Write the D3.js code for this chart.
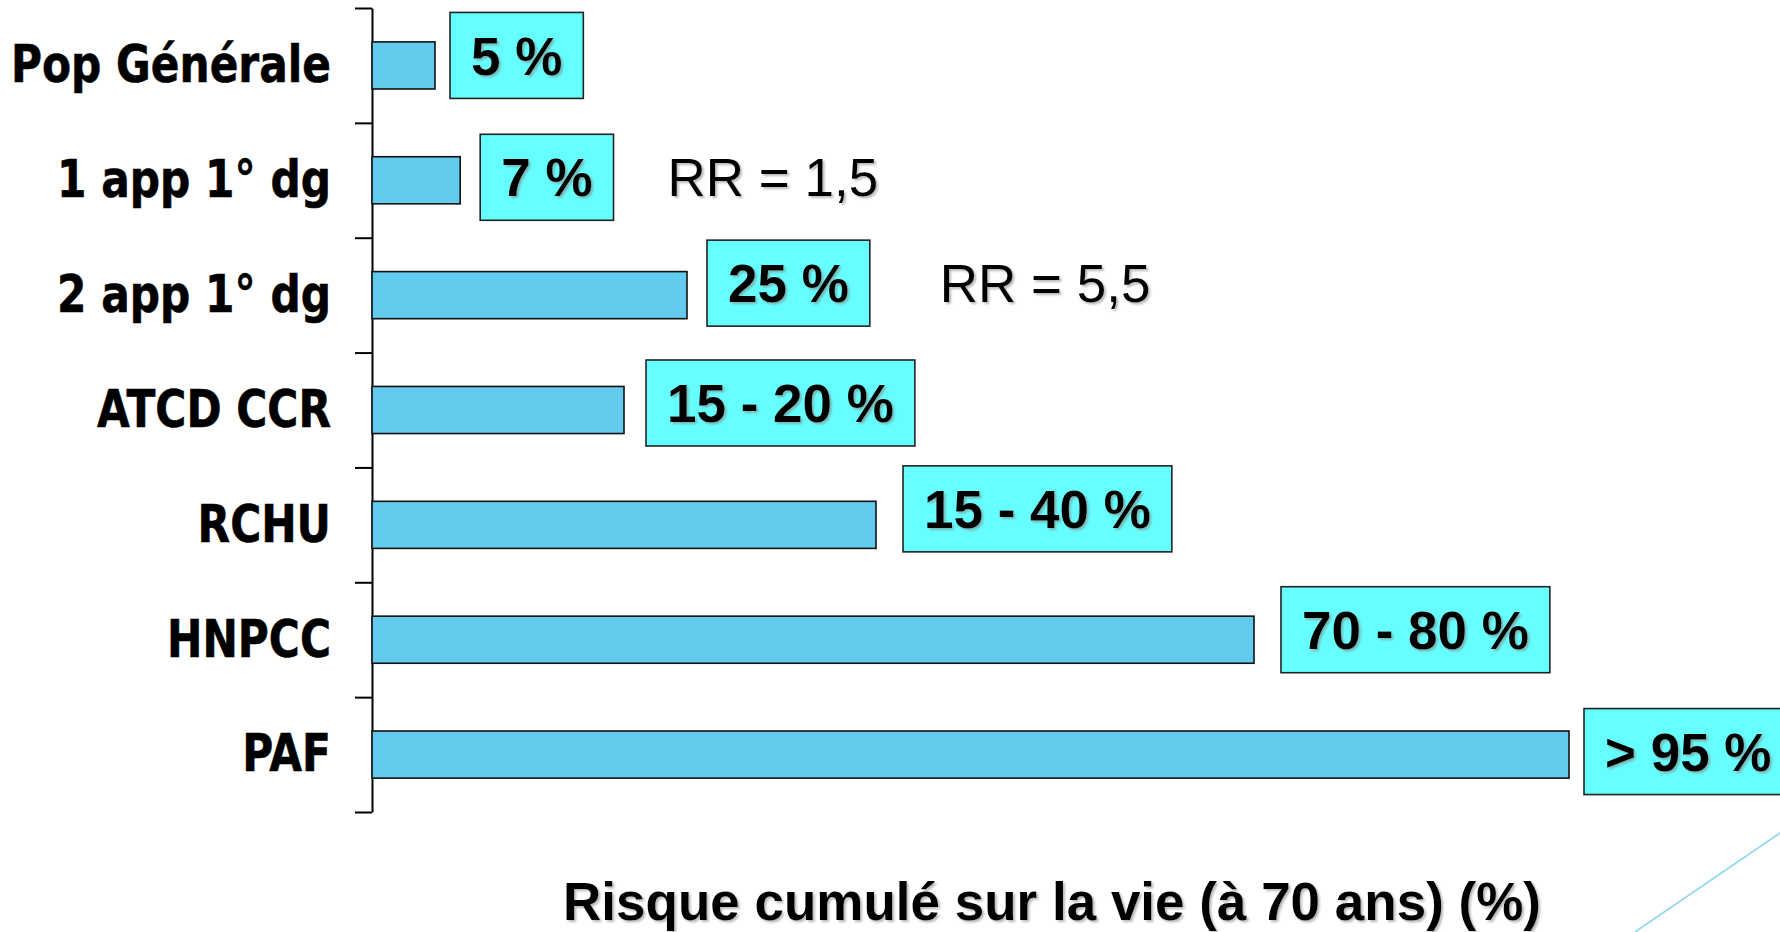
<!DOCTYPE html>
<html>
<head>
<meta charset="utf-8">
<script src="https://cdn.jsdelivr.net/npm/d3@7"></script>
<style>
  html, body { margin: 0; padding: 0; background: #ffffff; }
  svg { display: block; }
</style>
</head>
<body>
<svg id="chart" width="1780" height="932"></svg>
<script>
// Cumulative lifetime colorectal cancer risk (at 70 years) by risk group
const categories = ["Pop Générale", "1 app 1° dg", "2 app 1° dg", "ATCD CCR", "RCHU", "HNPCC", "PAF"];
const riskValues = [5, 7, 25, 20, 40, 70, 95];
const riskLabels = ["5 %", "7 %", "25 %", "15 - 20 %", "15 - 40 %", "70 - 80 %", "> 95 %"];
const rrCategories = ["1 app 1° dg", "2 app 1° dg"];
const rrValues = ["1,5", "5,5"];
const axisTitle = "Risque cumulé sur la vie (à 70 ans) (%)";

const svg = d3.select("#chart");
const W = 1780, H = 932;

const axisX = 372;
const plotTop = 8, plotBottom = 812;

// hand-placed nudges of the value boxes and RR notes, as on the slide
const boxNudgeX = [-5, 0, 0, 2, 7, 7, -5];
const boxNudgeY = [0, 7, -2, 3, -6, 0, 7];
const rrGaps = [54, 70];

const x = d3.scaleLinear().domain([0, 100]).range([axisX, axisX + 1260]);
const y = d3.scaleBand().domain(categories).range([plotTop, plotBottom])
  .paddingInner(0.59).paddingOuter(0.295);

// soft drop shadow used on the value and annotation texts
const defs = svg.append("defs");
const f = defs.append("filter").attr("id", "shadow")
  .attr("x", "-10%").attr("y", "-20%").attr("width", "130%").attr("height", "150%");
f.append("feDropShadow").attr("dx", 2).attr("dy", 2).attr("stdDeviation", 1.2)
  .attr("flood-color", "#808080").attr("flood-opacity", 0.55);

svg.append("rect").attr("width", W).attr("height", H).attr("fill", "#ffffff");

// category axis: ticks sit on the boundaries between rows
const boundary = d3.scaleLinear().domain([0, categories.length]).range([plotTop, plotBottom]);
const axisG = svg.append("g")
  .attr("transform", `translate(${axisX},0)`)
  .call(d3.axisLeft(boundary).ticks(categories.length).tickSize(17).tickSizeOuter(0).tickFormat(""));
axisG.select(".domain").attr("stroke", "#000").attr("stroke-width", 2);
axisG.selectAll(".tick line").attr("stroke", "#000").attr("stroke-width", 2);

// category labels
svg.append("g").selectAll("text").data(categories).join("text")
  .attr("transform", d => `translate(331,${y(d) + y.bandwidth() / 2}) scale(0.83,1)`)
  .attr("text-anchor", "end")
  .attr("dy", "0.33em")
  .attr("font-family", "'DejaVu Sans', Verdana, sans-serif")
  .attr("font-weight", "bold")
  .attr("font-size", 51)
  .attr("fill", "#000")
  .attr("stroke", "#000")
  .attr("stroke-width", 0.6)
  .text(d => d);

// bars
svg.append("g").selectAll("rect").data(categories).join("rect")
  .attr("x", x(0))
  .attr("y", d => y(d))
  .attr("width", (d, i) => x(riskValues[i]) - x(0))
  .attr("height", y.bandwidth())
  .attr("fill", "#62caed")
  .attr("stroke", "#111")
  .attr("stroke-width", 1.6);

// value boxes next to each bar
const boxGap = 20, boxPad = 21, boxH = 86, boxLift = 10;
const labelFont = "'Liberation Sans', Arial, sans-serif";
const boxRight = [], boxMid = [];
svg.append("g").selectAll("g").data(categories).join("g").each(function (d, i) {
  const g = d3.select(this);
  const cy = y(d) + y.bandwidth() / 2 - boxLift + boxNudgeY[i];
  const left = x(riskValues[i]) + boxGap + boxNudgeX[i];
  const rect = g.append("rect");
  const t = g.append("text")
    .attr("font-family", labelFont)
    .attr("font-weight", "bold")
    .attr("font-size", 53)
    .attr("fill", "#000")
    .attr("filter", "url(#shadow)")
    .attr("dy", "0.36em")
    .text(riskLabels[i]);
  const tw = t.node().getComputedTextLength();
  t.attr("x", left + boxPad).attr("y", cy);
  rect.attr("x", left).attr("y", cy - boxH / 2)
    .attr("width", tw + 2 * boxPad).attr("height", boxH)
    .attr("fill", "#66ffff").attr("stroke", "#222").attr("stroke-width", 1.6);
  boxRight[i] = left + tw + 2 * boxPad;
  boxMid[i] = cy;
});

// relative-risk annotations to the right of their boxes
rrCategories.forEach((c, k) => {
  const i = categories.indexOf(c);
  svg.append("text")
    .attr("x", boxRight[i] + rrGaps[k])
    .attr("y", boxMid[i])
    .attr("dy", "0.36em")
    .attr("font-family", labelFont)
    .attr("font-size", 53)
    .attr("fill", "#000")
    .attr("filter", "url(#shadow)")
    .text("RR = " + rrValues[k]);
});

// horizontal axis title
svg.append("text")
  .attr("x", 1052)
  .attr("y", 920)
  .attr("text-anchor", "middle")
  .attr("font-family", labelFont)
  .attr("font-weight", "bold")
  .attr("font-size", 53)
  .attr("fill", "#000")
  .attr("filter", "url(#shadow)")
  .text(axisTitle);

// thin decorative diagonal in the bottom-right corner
svg.append("line")
  .attr("x1", 1635).attr("y1", 932)
  .attr("x2", 1780).attr("y2", 833)
  .attr("stroke", "#8fd6f0").attr("stroke-width", 1.6);
</script>
</body>
</html>
